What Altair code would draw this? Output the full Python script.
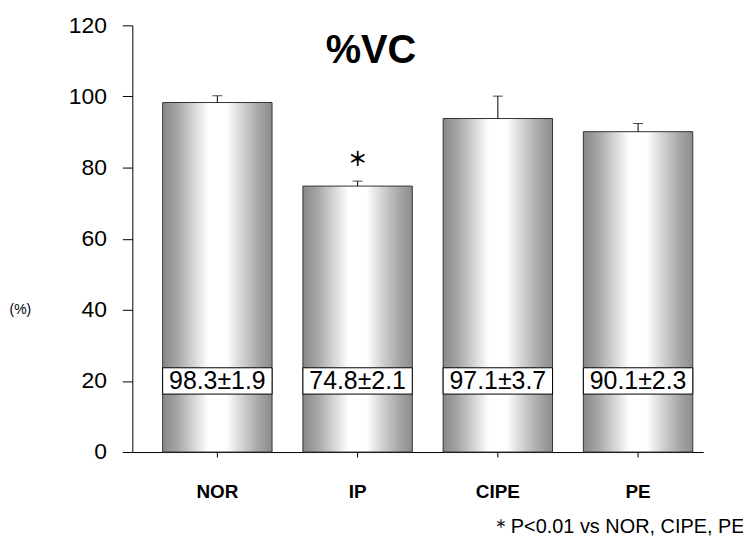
import altair as alt
import pandas as pd

groups = ["NOR", "IP", "CIPE", "PE"]
bar_values = [98.3, 74.8, 93.8, 90.1]
err_sd = [1.9, 1.4, 6.3, 2.3]
value_labels = ["98.3±1.9", "74.8±2.1", "97.1±3.7", "90.1±2.3"]
sig_marks = ["", "＊", "", ""]
footnote = "＊P<0.01 vs NOR, CIPE, PE"
title_text = ["%VC"]

df = pd.DataFrame({
    "group": groups,
    "value": bar_values,
    "sd": err_sd,
    "label": value_labels,
    "sig": sig_marks,
})
df["err_top"] = df["value"] + df["sd"]

LABEL_Y = 20
BOX_HALF = 3.7

xscale = alt.Scale(paddingInner=0.22, paddingOuter=0.1454, align=0.744)
yscale = alt.Scale(domain=[0, 120], nice=False)

x_axis = alt.Axis(
    title=footnote, titleAnchor="end", titleAlign="right", titleBaseline="alphabetic",
    titleX=615, titleY=81, titleFontSize=20, titleFontWeight="normal",
    titleFont="Liberation Sans", titleColor="black",
    labelAngle=0, labelFontSize=19, labelFont="Liberation Sans", labelColor="black",
    labelPadding=26, tickSize=5, tickColor="black", domainColor="black",
    labelFontWeight="bold",
)
y_axis = alt.Axis(
    title="(%)", titleAngle=0, titleX=-113, titleY=286, titleAlign="center",
    titleBaseline="middle", titleFontSize=14, titleFontWeight="normal",
    titleFont="Liberation Sans", titleColor="black",
    values=list(range(0, 121, 10)),
    labelExpr="datum.value % 20 === 0 ? datum.label : ''",
    tickSize={"condition": {"test": "datum.value % 20 !== 0", "value": 5}, "value": 10},
    labelPadding=16, labelFontSize=23, labelFont="Liberation Sans", labelColor="black",
    tickColor="black", domainColor="black", grid=False,
)

gradient = alt.LinearGradient(
    gradient="linear", x1=0, x2=1, y1=0, y2=0,
    stops=[
        alt.GradientStop(offset=0, color="#888888"),
        alt.GradientStop(offset=0.12, color="#a2a2a2"),
        alt.GradientStop(offset=0.3, color="#dadada"),
        alt.GradientStop(offset=0.42, color="#ffffff"),
        alt.GradientStop(offset=0.58, color="#ffffff"),
        alt.GradientStop(offset=0.72, color="#d4d4d4"),
        alt.GradientStop(offset=0.88, color="#a6a6a6"),
        alt.GradientStop(offset=1, color="#8c8c8c"),
    ],
)

base = alt.Chart(df)

bars = base.mark_bar(fill=gradient, stroke="#333333", strokeWidth=1).encode(
    x=alt.X("group:N", sort=groups, scale=xscale, axis=x_axis),
    y=alt.Y("value:Q", scale=yscale, axis=y_axis),
)

err = base.mark_rule(color="black", strokeWidth=1).encode(
    x=alt.X("group:N", sort=groups),
    y=alt.Y("value:Q"),
    y2="err_top:Q",
)
caps = base.mark_tick(color="black", thickness=1, size=10, orient="horizontal").encode(
    x=alt.X("group:N", sort=groups),
    y=alt.Y("err_top:Q"),
)

boxes = base.mark_bar(fill="white", stroke="black", strokeWidth=1).encode(
    x=alt.X("group:N", sort=groups),
    y=alt.datum(LABEL_Y - BOX_HALF),
    y2=alt.datum(LABEL_Y + BOX_HALF),
)
labels = base.mark_text(fontSize=25, font="Liberation Sans", color="black", baseline="middle").encode(
    x=alt.X("group:N", sort=groups),
    y=alt.datum(LABEL_Y),
    text="label:N",
)
stars = base.mark_text(fontSize=20, font="Noto Sans CJK JP", fontWeight="bold", color="black",
                       baseline="middle", dy=-21).encode(
    x=alt.X("group:N", sort=groups),
    y=alt.Y("err_top:Q"),
    text="sig:N",
)

title = alt.Chart(pd.DataFrame({"t": title_text})).mark_text(
    fontSize=40, font="Liberation Sans", fontWeight="bold", color="black",
    baseline="alphabetic", align="center",
).encode(x=alt.value(240), y=alt.value(38), text="t:N")

chart = alt.layer(bars, err, caps, boxes, labels, stars, title).properties(
    width=574, height=429,
    autosize=alt.AutoSizeParams(type="none"),
    padding={"left": 125, "top": 16, "right": 40, "bottom": 90},
    background="white",
).configure_view(stroke=None)

chart.save("out.html", embed_options={"renderer": "svg", "actions": False})
